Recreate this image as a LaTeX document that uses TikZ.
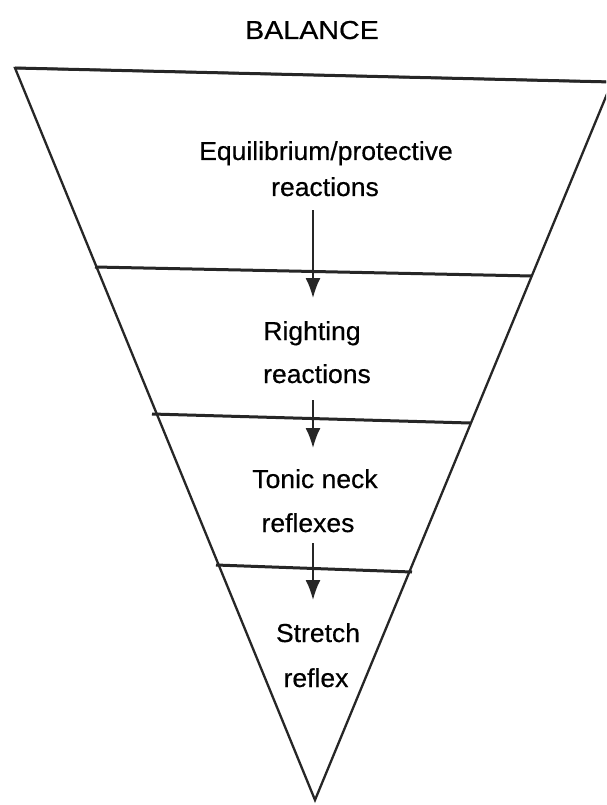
\documentclass[tikz,border=0pt]{standalone}
\usepackage{fontspec}
\setmainfont{Liberation Sans}[FakeStretch=1.02,FakeBold=0.5]
\usetikzlibrary{arrows.meta}
\begin{document}
\begin{tikzpicture}[x=1pt,y=-1pt,
  lbl/.style={font=\fontsize{26}{30}\selectfont, inner sep=0pt, anchor=base},
  edge/.style={line width=2.3pt, black!85, line join=miter},
  band/.style={line width=3pt, black!85},
  flow/.style={line width=1.9pt, black!85, -{Latex[length=20pt,width=15pt]}}]
\useasboundingbox (0,0) rectangle (606,805);
\fill[white] (0,0) rectangle (606,805);
\coordinate (TL) at (15,68);
\coordinate (TR) at (612,82);
\coordinate (A) at (315,800);
\coordinate (L1) at (95,267);
\coordinate (R1) at (532,276);
\coordinate (L2) at (152,414);
\coordinate (R2) at (470,423);
\coordinate (L3) at (216,565);
\coordinate (R3) at (412,572);
\begin{scope}
\clip (0,0) rectangle (606,805);
\draw[edge] (TL) -- (TR) -- (A) -- cycle;
\draw[band] (TL) -- (TR);
\end{scope}
\draw[band] (L1) -- (R1);
\draw[band] (L2) -- (R2);
\draw[band] (L3) -- (R3);
\node[lbl] (title) at (312,39) {\scalebox{1.08}[1]{BALANCE}};
\node[lbl] (eq1) at (326,160) {Equilibrium/protective};
\node[lbl] (eq2) at (325,196) {reactions};
\node[lbl] (ri1) at (312,340) {Righting};
\node[lbl] (ri2) at (317,383) {reactions};
\node[lbl] (to1) at (315,488) {Tonic neck};
\node[lbl] (to2) at (308,532) {reflexes};
\node[lbl] (st1) at (318,642) {Stretch};
\node[lbl] (st2) at (316,687) {reflex};
\coordinate (a1s) at (313,210);
\coordinate (a1e) at (313,298);
\coordinate (a2s) at (313,400);
\coordinate (a2e) at (313,448);
\coordinate (a3s) at (313,543);
\coordinate (a3e) at (313,600);
\draw[flow] (a1s) -- (a1e);
\draw[flow] (a2s) -- (a2e);
\draw[flow] (a3s) -- (a3e);
\end{tikzpicture}
\end{document}
